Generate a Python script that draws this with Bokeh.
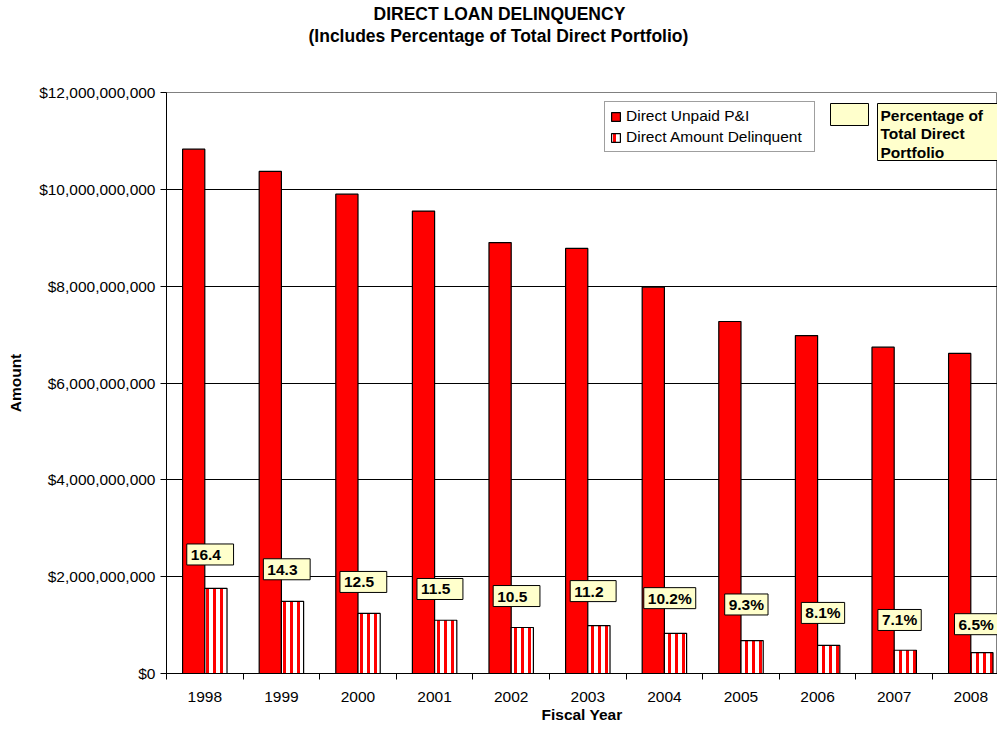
from bokeh.plotting import figure
from bokeh.models import (Range1d, FixedTicker, NumeralTickFormatter, Legend, LegendItem,
                          Label, BoxAnnotation, ColumnDataSource, Title)
from bokeh.transform import dodge
from bokeh.core.properties import value
from bokeh.embed import file_html
from bokeh.resources import INLINE

# ---------------- data ----------------
years = ["1998", "1999", "2000", "2001", "2002", "2003", "2004", "2005", "2006", "2007", "2008"]
unpaid = [10.83e9, 10.37e9, 9.90e9, 9.55e9, 8.90e9, 8.78e9, 7.98e9, 7.27e9, 6.98e9, 6.74e9, 6.61e9]
delinquent = [1.76e9, 1.49e9, 1.24e9, 1.10e9, 0.95e9, 0.99e9, 0.83e9, 0.68e9, 0.58e9, 0.48e9, 0.43e9]
pct_values = [16.4, 14.3, 12.5, 11.5, 10.5, 11.2, 10.2, 9.3, 8.1, 7.1, 6.5]
pct_labels = ["16.4", "14.3", "12.5", "11.5", "10.5", "11.2", "10.2%", "9.3%", "8.1%", "7.1%", "6.5%"]
y_ticks = [0, 2e9, 4e9, 6e9, 8e9, 10e9, 12e9]

FONT = "Liberation Sans"
W, H = 997, 733
ML, MT, MB, MR = 166, 92, 60, 0
FW, FH = W - ML - MR, H - MT - MB
CAT_PX = 76.6
XMAX = FW / CAT_PX
YMAX = 12e9

# page-pixel layout helpers
def sx(px):
    return (px - ML) / CAT_PX

def sy(py):
    return (MT + FH - py) / FH * YMAX

centers = [i + 0.5 for i in range(len(years))]
bounds = [float(i) for i in range(len(years) + 1)]
# plain numbers carry a little extra room inside their boxes, as in the original
shown_labels = [t if t.endswith("%") else " " + t + " " for t in pct_labels]

src = ColumnDataSource(dict(x=centers, unpaid=unpaid, delinquent=delinquent,
                            pct=pct_values, label=shown_labels))

p = figure(width=W, height=H, output_backend="svg", toolbar_location=None,
           x_range=Range1d(0, XMAX), y_range=Range1d(0, YMAX),
           min_border_left=ML, min_border_right=MR, min_border_top=MT, min_border_bottom=MB,
           background_fill_color="white", border_fill_color="white")
p.extra_y_ranges = {"pct": Range1d(-0.5, 82)}
p.outline_line_color = "#808080"
p.outline_line_width = 1

r1 = p.vbar(x=dodge("x", -0.145, range=p.x_range), top="unpaid", width=0.29, source=src,
            fill_color="#FF0000", line_color="black", line_width=1.2)
r2 = p.vbar(x=dodge("x", 0.145, range=p.x_range), top="delinquent", width=0.29, source=src,
            fill_color="white", line_color="black", line_width=1.2,
            hatch_pattern="|", hatch_color="#FF0000", hatch_scale=7, hatch_weight=3)

p.text(x=dodge("x", 0.07, range=p.x_range), y="pct", text="label", source=src, y_range_name="pct",
       text_font=value(FONT), text_font_style="bold", text_font_size="15.5px",
       text_color="black", text_align="center", text_baseline="middle",
       background_fill_color="#FFFFCC", border_line_color="black", border_line_width=1,
       padding=dict(left=4, right=4, top=2, bottom=2))

# axes
p.xaxis.ticker = FixedTicker(ticks=centers, minor_ticks=bounds)
p.xaxis.major_label_overrides = {c: y for c, y in zip(centers, years)}
p.xaxis.major_tick_line_color = None
p.xaxis.major_tick_out = 0
p.xaxis.major_tick_in = 0
p.xaxis.minor_tick_line_color = "black"
p.xaxis.minor_tick_out = 6
p.xaxis.minor_tick_in = 0
p.xaxis.major_label_standoff = 12
p.xaxis.axis_label = "Fiscal Year"
p.xaxis.axis_label_standoff = 1

p.yaxis.ticker = FixedTicker(ticks=y_ticks)
p.yaxis.formatter = NumeralTickFormatter(format="$0,0")
p.yaxis.major_tick_out = 6
p.yaxis.major_tick_in = 0
p.yaxis.minor_tick_line_color = None
p.yaxis.major_label_standoff = 5
p.yaxis.axis_label = "Amount"
p.yaxis.axis_label_standoff = 12

for ax in (p.xaxis, p.yaxis):
    ax.axis_line_color = "black"
    ax.axis_line_width = 1
    ax.major_label_text_font = FONT
    ax.major_label_text_font_size = "15.5px"
    ax.major_label_text_color = "black"
    ax.axis_label_text_font = FONT
    ax.axis_label_text_font_size = "15.5px"
    ax.axis_label_text_font_style = "bold"
    ax.axis_label_text_color = "black"

p.xgrid.grid_line_color = None
p.ygrid.ticker = FixedTicker(ticks=y_ticks)
p.ygrid.grid_line_color = "black"
p.ygrid.grid_line_width = 1

# legend
legend = Legend(items=[LegendItem(label="Direct Unpaid P&I", renderers=[r1]),
                       LegendItem(label="Direct Amount Delinquent", renderers=[r2])],
                location=(604 - ML, MT + FH - 152), margin=0, padding=5, spacing=3,
                glyph_width=11, glyph_height=11, label_standoff=5, label_width=183,
                label_height=16,
                label_text_font=FONT, label_text_font_size="15.5px", label_text_color="black",
                border_line_color="#404040", border_line_width=1, background_fill_color="white",
                background_fill_alpha=1)
p.add_layout(legend, "center")

# secondary "legend": percentage
p.add_layout(BoxAnnotation(left=sx(830), right=sx(868), top=sy(103), bottom=sy(125),
                           fill_color="#FFFFCC", fill_alpha=1, line_color="black", line_alpha=1,
                           line_width=1))
p.add_layout(BoxAnnotation(left=sx(877), right=sx(1010), top=sy(103), bottom=sy(160),
                           fill_color="#FFFFCC", fill_alpha=1, line_color="black", line_alpha=1,
                           line_width=1))
p.add_layout(Label(x=sx(880), y=sy(106), text="Percentage of\nTotal Direct\nPortfolio",
                   text_align="left", text_baseline="top", text_font=FONT,
                   text_font_style="bold", text_font_size="15.5px", text_line_height=1.1,
                   text_color="black"))

# title: two centred lines; side panels stack outward from the plot area in the order added
p.title.text = "DIRECT LOAN DELINQUENCY"
p.title.align = "left"
p.title.offset = 373 - ML
p.title.text_font = FONT
p.title.text_font_size = "17.5px"
p.title.text_font_style = "bold"
p.title.text_color = "black"
p.title.standoff = 0
# blank spacer between the title block and the plot area (nearest the plot)
p.add_layout(Title(text=" ", text_font_size="2px", standoff=43), "above")
t2 = Title(text="(Includes Percentage of Total Direct Portfolio)", align="left", offset=308 - ML,
           text_font=FONT, text_font_size="17.5px", text_font_style="bold", text_color="black",
           standoff=0)
p.add_layout(t2, "above")

open("out.html", "w").write(file_html(p, INLINE))
